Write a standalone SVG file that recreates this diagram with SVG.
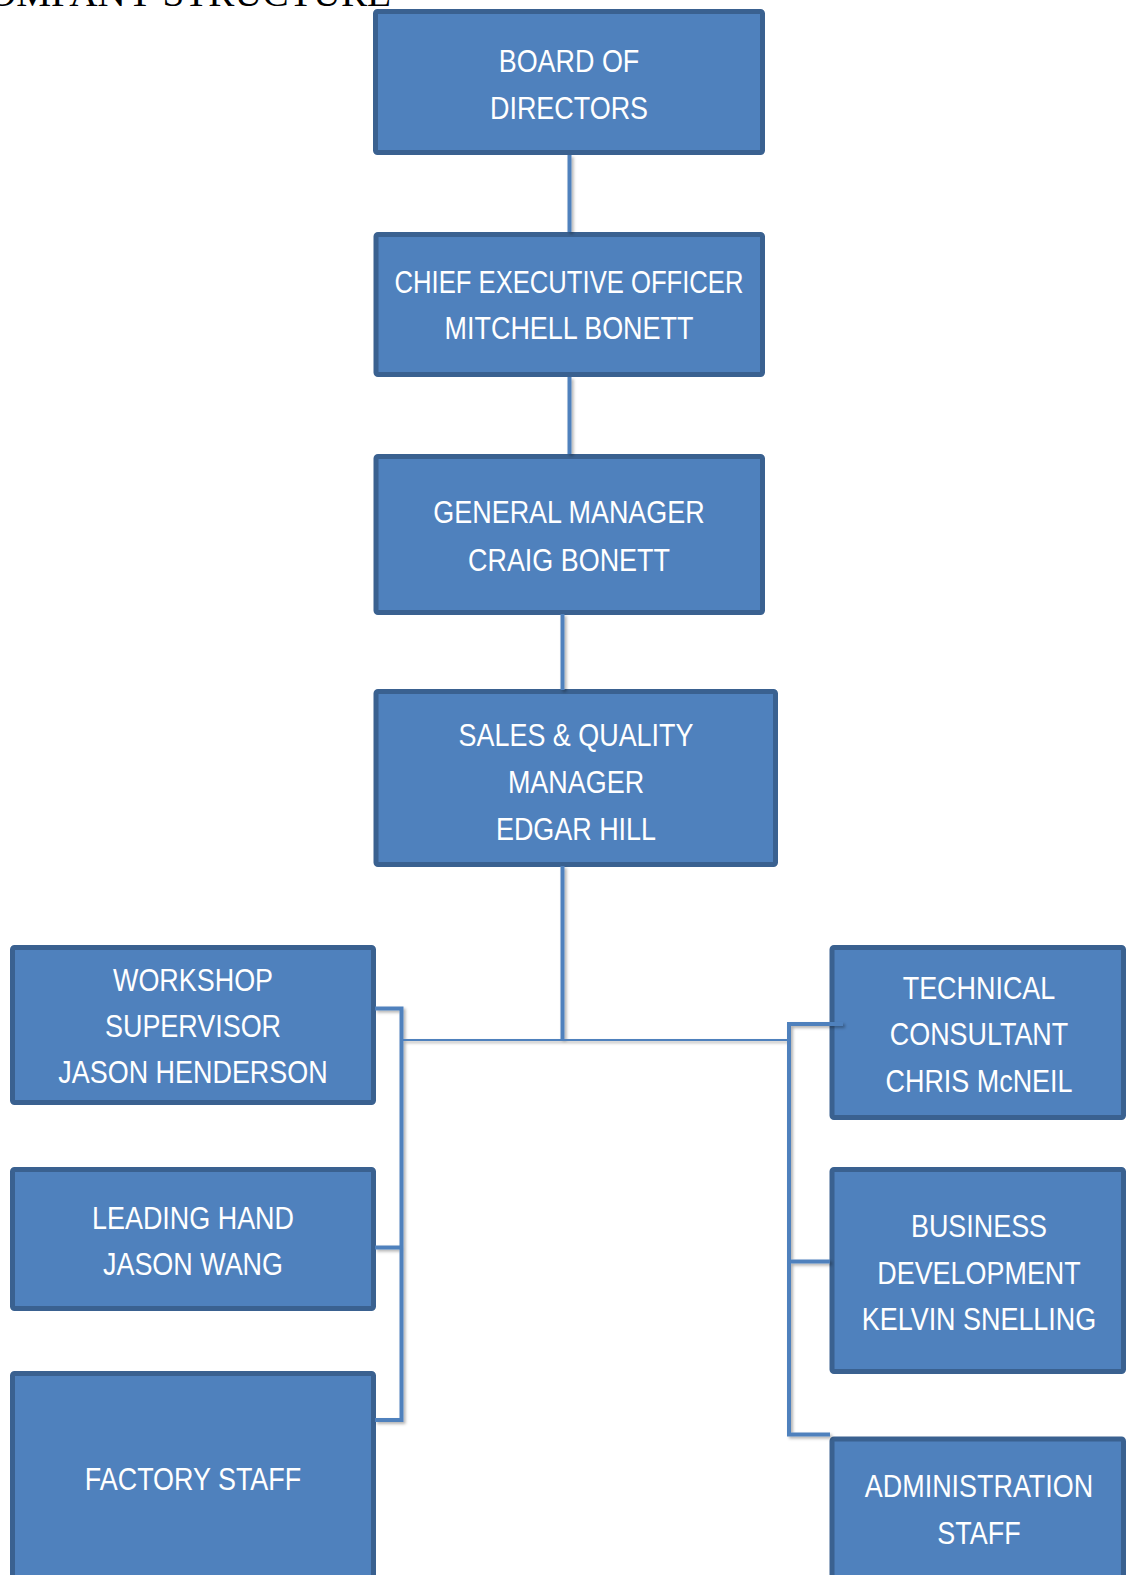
<svg xmlns="http://www.w3.org/2000/svg" width="1128" height="1575" viewBox="0 0 1128 1575">
<style>
.box{fill:#4F81BD;stroke:#3A6190;stroke-width:5}
.lbl{fill:#FFFFFF;font-family:"Liberation Sans",Arial,sans-serif;font-size:31.5px;text-anchor:middle}
.ln{stroke:#4F81BD;stroke-width:4;fill:none}
.thin{stroke:#4F81BD;stroke-width:2;fill:none}
.title{font-family:"Liberation Serif","Times New Roman",serif;font-size:36px;fill:#000}
</style>
<defs>
<filter id="sh" x="-20%" y="-20%" width="140%" height="140%">
<feDropShadow dx="2" dy="2" stdDeviation="1.5" flood-color="#000" flood-opacity="0.3"/>
</filter>
</defs>
<rect width="1128" height="1575" fill="#FFFFFF"/>
<text class="title" x="-12" y="6" textLength="403" lengthAdjust="spacingAndGlyphs">OMPANY STRUCTURE</text>

<g id="board">
<rect class="box" x="375.5" y="11.5" width="387" height="141" rx="2"/>
<g transform="translate(569,0) scale(0.855,1)"><text class="lbl" x="0" y="71.6">BOARD OF</text><text class="lbl" x="0" y="118.8">DIRECTORS</text></g>
</g>
<g id="ceo">
<rect class="box" x="376" y="234.5" width="386.5" height="140" rx="2"/>
<g transform="translate(569,0) scale(0.855,1)"><text class="lbl" x="0" y="292.7" textLength="408" lengthAdjust="spacingAndGlyphs">CHIEF EXECUTIVE OFFICER</text><text class="lbl" x="0" y="339.5">MITCHELL BONETT</text></g>
</g>
<g id="gm">
<rect class="box" x="376" y="456.5" width="386.5" height="156" rx="2"/>
<g transform="translate(569,0) scale(0.855,1)"><text class="lbl" x="0" y="522.6">GENERAL MANAGER</text><text class="lbl" x="0" y="570.8">CRAIG BONETT</text></g>
</g>
<g id="sales">
<rect class="box" x="376" y="691.5" width="399.5" height="173" rx="2"/>
<g transform="translate(576,0) scale(0.855,1)"><text class="lbl" x="0" y="745.6">SALES &amp; QUALITY</text><text class="lbl" x="0" y="792.8">MANAGER</text><text class="lbl" x="0" y="840">EDGAR HILL</text></g>
</g>
<g id="workshop">
<rect class="box" x="12.5" y="947.5" width="361" height="155" rx="2"/>
<g transform="translate(193,0) scale(0.855,1)"><text class="lbl" x="0" y="990.7">WORKSHOP</text><text class="lbl" x="0" y="1037">SUPERVISOR</text><text class="lbl" x="0" y="1083.5">JASON HENDERSON</text></g>
</g>
<g id="leadinghand">
<rect class="box" x="12.5" y="1169.5" width="361" height="139" rx="2"/>
<g transform="translate(193,0) scale(0.855,1)"><text class="lbl" x="0" y="1228.8">LEADING HAND</text><text class="lbl" x="0" y="1275">JASON WANG</text></g>
</g>
<g id="factory">
<rect class="box" x="12.5" y="1373.5" width="361" height="220" rx="2"/>
<g transform="translate(193,0) scale(0.855,1)"><text class="lbl" x="0" y="1490">FACTORY STAFF</text></g>
</g>
<g id="technical">
<rect class="box" x="832" y="947.5" width="291.5" height="170" rx="2"/>
<g transform="translate(979,0) scale(0.855,1)"><text class="lbl" x="0" y="998.7">TECHNICAL</text><text class="lbl" x="0" y="1045">CONSULTANT</text><text class="lbl" x="0" y="1092">CHRIS McNEIL</text></g>
</g>
<g id="business">
<rect class="box" x="832" y="1169.5" width="291.5" height="202" rx="2"/>
<g transform="translate(979,0) scale(0.855,1)"><text class="lbl" x="0" y="1236.8">BUSINESS</text><text class="lbl" x="0" y="1284">DEVELOPMENT</text><text class="lbl" x="0" y="1330">KELVIN SNELLING</text></g>
</g>
<g id="admin">
<rect class="box" x="832" y="1439" width="291.5" height="200" rx="2"/>
<g transform="translate(979,0) scale(0.855,1)"><text class="lbl" x="0" y="1497">ADMINISTRATION</text><text class="lbl" x="0" y="1544">STAFF</text></g>
</g>

<g id="connectors" filter="url(#sh)">
<line class="ln" x1="569.5" y1="155" x2="569.5" y2="232"/>
<line class="ln" x1="569.5" y1="377" x2="569.5" y2="454"/>
<line class="ln" x1="562.5" y1="614" x2="562.5" y2="690"/>
<line class="ln" x1="562.5" y1="866" x2="562.5" y2="1040"/>
<line class="thin" x1="401" y1="1040" x2="789" y2="1040"/>
<polyline class="ln" points="375,1008.5 401.5,1008.5 401.5,1420 375,1420"/>
<line class="ln" x1="375" y1="1247.5" x2="401.5" y2="1247.5"/>
<polyline class="ln" points="843,1024 789,1024 789,1434.5 830,1434.5"/>
<line class="ln" x1="789" y1="1261.5" x2="830" y2="1261.5"/>
</g>
</svg>
